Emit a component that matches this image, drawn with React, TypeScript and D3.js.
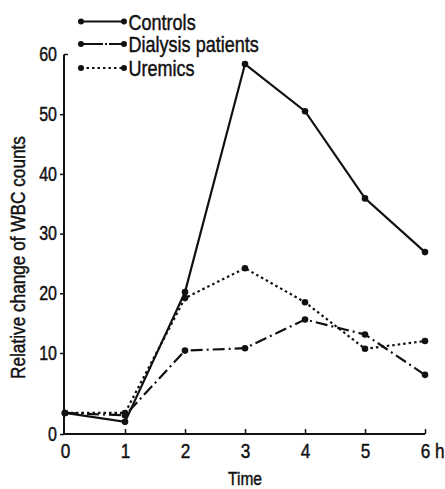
import { useEffect, useRef } from "react"
import * as d3 from "d3"

// hours after start
const times = [0, 1, 2, 3, 4, 5, 6]
const controls = [2.6, 1.5, 20.2, 58.4, 50.5, 35.9, 26.9]
const dialysis = [2.6, 2.3, 10.4, 10.8, 15.6, 13.1, 7.3]
const uremics = [2.6, 2.6, 19.2, 24.2, 18.5, 10.7, 12.0]

const seriesNames = ["Controls", "Dialysis patients", "Uremics"]
const yTicks = [0, 10, 20, 30, 40, 50, 60]
const xTickLabels = ["0", "1", "2", "3", "4", "5", "6 h"]

const FONT = "'Liberation Sans', Arial, sans-serif"
const NARROW = 0.82 // the original uses a condensed face
const INK = "#111"

export default function App() {
  const ref = useRef<SVGSVGElement>(null)

  useEffect(() => {
    const svg = d3.select(ref.current)
    svg.selectAll("*").remove()

    // x: 0..6 h
    const x = d3.scaleLinear().domain([0, 6]).range([65, 425])
    // y axis is stretched below 10 in the original
    const y = d3.scaleLinear().domain([0, 10, 60]).range([434, 353, 54.5])

    const styles = [
      { data: controls, dash: null },
      { data: dialysis, dash: "12,4,2,4" },
      { data: uremics, dash: "2.5,3" },
    ]

    const line = d3.line<number>()
      .x((d, i) => x(times[i]))
      .y(d => y(d))

    const g = svg.append("g")

    styles.forEach(s => {
      g.append("path")
        .datum(s.data)
        .attr("d", line)
        .attr("fill", "none")
        .attr("stroke", INK)
        .attr("stroke-width", 2.2)
        .attr("stroke-dasharray", s.dash)
      g.selectAll(null)
        .data(s.data)
        .enter().append("circle")
        .attr("cx", (d, i) => x(times[i]))
        .attr("cy", d => y(d))
        .attr("r", 3.3)
        .attr("fill", INK)
    })

    // heavier text like the printed original
    const ink = (sel: any) => sel
      .attr("font-family", FONT)
      .attr("fill", INK)
      .attr("stroke", INK)
      .attr("stroke-width", 0.45)

    // y axis
    const yAxis = svg.append("g")
      .attr("transform", "translate(64,0)")
      .call(d3.axisLeft(y).tickValues(yTicks).tickSize(4).tickSizeOuter(0).tickPadding(3))
    yAxis.select(".domain").remove()
    yAxis.append("line")
      .attr("x1", 0).attr("x2", 0)
      .attr("y1", y(60)).attr("y2", y(0))
      .attr("stroke", INK).attr("stroke-width", 2)
    yAxis.append("line")
      .attr("x1", 0).attr("x2", 4)
      .attr("y1", y(60)).attr("y2", y(60))
      .attr("stroke", INK).attr("stroke-width", 1.5)
    yAxis.selectAll(".tick line").attr("stroke", INK).attr("stroke-width", 1.5)
    yAxis.selectAll(".tick").filter(d => d === 60).select("line").remove()
    yAxis.selectAll("text")
      .call(ink)
      .attr("font-size", 19.5)
      .attr("x", -7 / NARROW)
      .attr("transform", `scale(${NARROW},1)`)

    // x axis
    const xAxis = svg.append("g")
      .attr("transform", "translate(0,434)")
      .call(d3.axisBottom(x).ticks(6).tickSize(-5).tickSizeOuter(0).tickPadding(9)
        .tickFormat((d, i) => xTickLabels[i]))
    xAxis.select(".domain").remove()
    xAxis.append("line")
      .attr("x1", 64).attr("x2", x(6))
      .attr("y1", 0).attr("y2", 0)
      .attr("stroke", INK).attr("stroke-width", 2)
    xAxis.selectAll(".tick line").attr("stroke", INK).attr("stroke-width", 1.5)
    xAxis.selectAll(".tick").filter(d => d === 0).select("line").remove()
    xAxis.selectAll("text")
      .call(ink)
      .attr("font-size", 21)
      .attr("transform", `scale(${NARROW},1)`)
    xAxis.selectAll(".tick").filter(d => d === 6).select("text")
      .attr("text-anchor", "start").attr("x", -5.8)

    // axis titles
    svg.append("text")
      .call(ink)
      .attr("transform", `translate(245,485) scale(${NARROW},1)`)
      .attr("text-anchor", "middle")
      .attr("font-size", 19)
      .text("Time")
    svg.append("text")
      .call(ink)
      .attr("transform", `translate(25,257.5) rotate(-90) scale(${NARROW},1)`)
      .attr("text-anchor", "middle")
      .attr("font-size", 21)
      .text("Relative change of WBC counts")

    // legend
    const legend = svg.append("g")
    const ly = [21.5, 44, 68]
    styles.forEach((s, i) => {
      legend.append("line")
        .attr("x1", 81).attr("x2", 124)
        .attr("y1", ly[i]).attr("y2", ly[i])
        .attr("stroke", INK).attr("stroke-width", 2)
        .attr("stroke-dasharray", i === 1 ? "22,2,2,2" : s.dash)
      legend.selectAll(null)
        .data([81, 124])
        .enter().append("circle")
        .attr("cx", d => d).attr("cy", ly[i]).attr("r", 3)
        .attr("fill", INK)
      legend.append("text")
        .call(ink)
        .attr("transform", `translate(128.5,${ly[i] + 8}) scale(${NARROW},1)`)
        .attr("font-size", 22)
        .text(seriesNames[i])
    })
  }, [])

  return (
    <svg ref={ref} width={445} height={489}
      style={{ position: "absolute", left: 0, top: 0, background: "#fff" }} />
  )
}
